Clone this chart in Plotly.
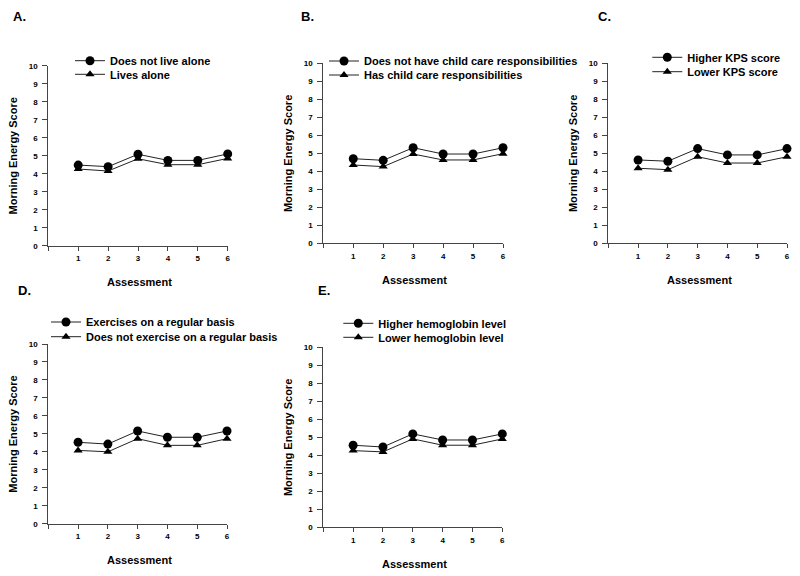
import plotly.graph_objects as go

# data
assessments = [1, 2, 3, 4, 5, 6]
x_tickvals = [0, 1, 2, 3, 4, 5, 6]
x_ticktext = ["", "1", "2", "3", "4", "5", "6"]
y_tickvals = list(range(0, 11))

panel_letters = ["A.", "B.", "C.", "D.", "E."]
high_names = ["Does not live alone", "Does not have child care responsibilities",
              "Higher KPS score", "Exercises on a regular basis", "Higher hemoglobin level"]
low_names = ["Lives alone", "Has child care responsibilities",
             "Lower KPS score", "Does not exercise on a regular basis", "Lower hemoglobin level"]

a_high = [4.48, 4.39, 5.08, 4.74, 4.74, 5.10]
a_low = [4.26, 4.15, 4.83, 4.50, 4.50, 4.85]
b_high = [4.70, 4.61, 5.31, 4.96, 4.96, 5.31]
b_low = [4.35, 4.26, 4.96, 4.63, 4.63, 4.98]
c_high = [4.63, 4.56, 5.26, 4.91, 4.91, 5.26]
c_low = [4.17, 4.09, 4.81, 4.46, 4.46, 4.81]
d_high = [4.53, 4.43, 5.16, 4.81, 4.81, 5.16]
d_low = [4.08, 4.00, 4.73, 4.36, 4.36, 4.73]
e_high = [4.56, 4.46, 5.19, 4.85, 4.85, 5.19]
e_low = [4.26, 4.19, 4.91, 4.56, 4.56, 4.91]

highs = [a_high, b_high, c_high, d_high, e_high]
lows = [a_low, b_low, c_low, d_low, e_low]

# page is 800x576, the body margin puts the figure at (8, 8)
PAGE_W, PAGE_H = 800, 576
OFF = 8
W, H = PAGE_W - OFF, PAGE_H - OFF
# plot boxes in page pixels: x0, x1, ytop, ybottom
boxes = [(48.3, 227.7, 65.7, 245.7),
         (323.3, 503.0, 63.3, 243.3),
         (608.3, 787.0, 63.3, 243.3),
         (48.3, 227.0, 344.0, 523.7),
         (323.3, 502.3, 347.3, 527.3)]
# legend marker x, first row y, second row y
legend_pos = [(90, 60.7, 74.3), (344, 61, 75), (667.3, 57.3, 71.7),
              (66, 322, 336.7), (358.3, 323.3, 337.3)]
# panel letter: left x, y, anchor
letter_pos = [(12, 8, "top"), (300, 16.5, "middle"), (597, 16.5, "middle"),
              (17, 291, "middle"), (317, 291, "middle")]

FONT = "Liberation Sans, Arial, sans-serif"
AXC = "#444444"

fig = go.Figure()
layout = dict(template="none", width=W, height=H,
              margin=dict(l=0, r=0, t=0, b=0, autoexpand=False),
              paper_bgcolor="white", plot_bgcolor="white", showlegend=True)
annotations = []

def px(x):
    return (x - OFF) / W

def py(y):
    return 1 - (y - OFF) / H

for i in range(5):
    n = "" if i == 0 else str(i + 1)
    x0, x1, yt, yb = boxes[i]
    lg1 = "legend" if i == 0 else "legend" + str(2 * i + 1)
    lg2 = "legend" + str(2 * i + 2)
    fig.add_trace(go.Scatter(
        x=assessments, y=highs[i], name=high_names[i], mode="lines+markers",
        xaxis="x" + n, yaxis="y" + n, legend=lg1, cliponaxis=False,
        line=dict(color="#222222", width=1),
        marker=dict(symbol="circle", size=9, color="black")))
    fig.add_trace(go.Scatter(
        x=assessments, y=lows[i], name=low_names[i], mode="lines+markers",
        xaxis="x" + n, yaxis="y" + n, legend=lg2, cliponaxis=False,
        line=dict(color="#222222", width=1),
        marker=dict(symbol="triangle-up", size=8, color="black")))

    tickfont = dict(family=FONT, size=8, color="black", weight="bold")
    layout["xaxis" + n] = dict(
        domain=[px(x0), px(x1)], range=[0, 6], anchor="y" + n, automargin=False,
        tickvals=x_tickvals, ticktext=x_ticktext, ticks="outside", ticklen=4,
        tickcolor=AXC, showline=True, linecolor=AXC, linewidth=1,
        showgrid=False, zeroline=False, tickfont=tickfont, ticklabelstandoff=1)
    layout["yaxis" + n] = dict(
        domain=[py(yb), py(yt)], range=[0, 10], anchor="x" + n, automargin=False,
        tickvals=y_tickvals, ticks="outside", ticklen=5,
        tickcolor=AXC, showline=True, linecolor=AXC, linewidth=1,
        showgrid=False, zeroline=False, tickfont=tickfont, ticklabelstandoff=3)

    lx, ly1, ly2 = legend_pos[i]
    for lg, ly in ((lg1, ly1), (lg2, ly2)):
        layout[lg] = dict(x=px(lx - 20), y=py(ly), xanchor="left", yanchor="middle",
                          bgcolor="rgba(0,0,0,0)", borderwidth=0,
                          font=dict(family=FONT, size=11, color="black", weight="bold"))

    tf = dict(family=FONT, size=11, color="black", weight="bold")
    annotations.append(dict(text="Assessment", x=px((x0 + x1) / 2 + 1.5), y=py(yb + 36.5),
                            xref="paper", yref="paper", showarrow=False,
                            xanchor="center", yanchor="middle", font=tf))
    annotations.append(dict(text="Morning Energy Score", x=px(x0 - 35.5), y=py((yt + yb) / 2),
                            xref="paper", yref="paper", showarrow=False, textangle=-90,
                            xanchor="center", yanchor="middle", font=tf))
    lx0, lyc, lanchor = letter_pos[i]
    annotations.append(dict(text=panel_letters[i], x=px(lx0), y=py(lyc),
                            xref="paper", yref="paper", showarrow=False,
                            xanchor="left", yanchor=lanchor, borderpad=0,
                            font=dict(family=FONT, size=13, color="black", weight="bold")))

layout["annotations"] = annotations
fig.update_layout(**layout)

fig.write_html("out.html")
